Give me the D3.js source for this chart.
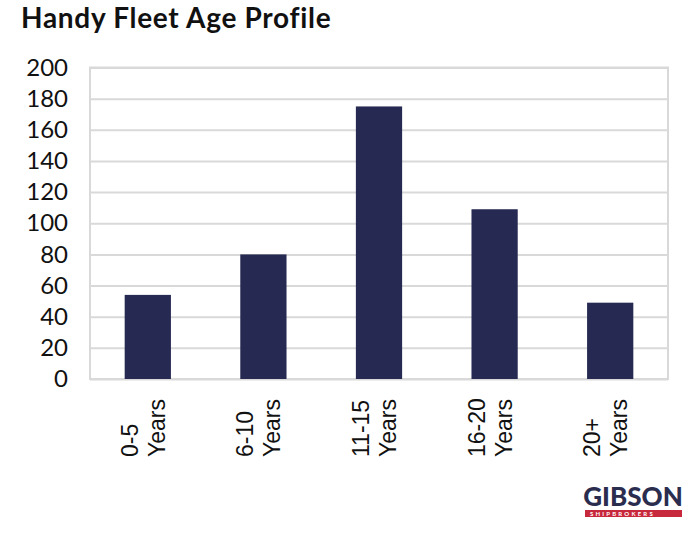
<!DOCTYPE html>
<html><head><meta charset="utf-8">
<script src="https://cdn.jsdelivr.net/npm/d3@7"></script>
<style>body{margin:0;background:#fff;} svg{display:block;}</style>
</head><body>
<svg id="chart" width="700" height="535"></svg>
<script>
const categories = ["0-5 Years", "6-10 Years", "11-15 Years", "16-20 Years", "20+ Years"];
const values = [54, 80, 175, 109, 49];
const yTicks = [0, 20, 40, 60, 80, 100, 120, 140, 160, 180, 200];
const title = "Handy Fleet Age Profile";

const svg = d3.select("#chart");
const m = {left: 90, right: 668, top: 67.5, bottom: 379};

const x = d3.scaleBand().domain(categories).range([m.left, m.right]).paddingInner(0.6).paddingOuter(0.3);
const y = d3.scaleLinear().domain([0, 200]).range([m.bottom, m.top]);

svg.append("text").attr("x", 21).attr("y", 28)
  .attr("font-family", "Lato").attr("font-weight", "bold").attr("font-size", 28).attr("letter-spacing", 0.7)
  .attr("fill", "#111").text(title);

// gridlines
const grid = svg.append("g")
  .attr("transform", `translate(${m.left},0)`)
  .call(d3.axisLeft(y).tickValues(yTicks).tickSize(-(m.right - m.left)).tickFormat(""));
grid.select(".domain").remove();
grid.selectAll("line").attr("stroke", "#d9d9d9").attr("stroke-width", 2);

// plot border
svg.append("rect").attr("x", m.left).attr("y", m.top).attr("width", m.right - m.left).attr("height", m.bottom - m.top)
  .attr("fill", "none").attr("stroke", "#d9d9d9").attr("stroke-width", 2);

// y labels
const ya = svg.append("g").attr("transform", `translate(${m.left},0)`)
  .call(d3.axisLeft(y).tickValues(yTicks).tickSize(0).tickPadding(22));
ya.select(".domain").remove();
ya.selectAll("text").attr("font-family", "Lato").attr("font-size", 24).attr("fill", "#111");

// bars
svg.append("g").selectAll("rect").data(values).join("rect")
  .attr("x", (d, i) => x(categories[i]))
  .attr("width", x.bandwidth())
  .attr("y", d => y(d))
  .attr("height", d => y(0) - y(d))
  .attr("fill", "#262a52");

// x labels
const xl = svg.append("g");
categories.forEach(c => {
  const cx = x(c) + x.bandwidth() / 2;
  const parts = c.split(" ");
  const t = xl.append("text")
    .attr("transform", `translate(${cx},457) rotate(-90)`)
    .attr("font-family", "Liberation Sans, Arial").attr("font-size", 23).attr("fill", "#111");
  t.append("tspan").attr("x", 0).attr("y", -10).text(parts[0]);
  t.append("tspan").attr("x", 0).attr("y", 17).text(parts[1]);
});

// logo
const logo = svg.append("g");
logo.append("text").attr("x", 633).attr("y", 506).attr("text-anchor", "middle")
  .attr("font-family", "Lato").attr("font-weight", "900").attr("font-size", 26)
  .attr("fill", "#2b2d4f").text("GIBSON");
logo.append("rect").attr("x", 585).attr("y", 510).attr("width", 97).attr("height", 7).attr("fill", "#c8283c");
logo.append("text").attr("x", 590).attr("y", 515.8)
  .attr("font-family", "Lato").attr("font-weight", "bold").attr("font-size", 6).attr("letter-spacing", 2.2)
  .attr("fill", "#fff").text("SHIPBROKERS");
</script>
</body></html>
